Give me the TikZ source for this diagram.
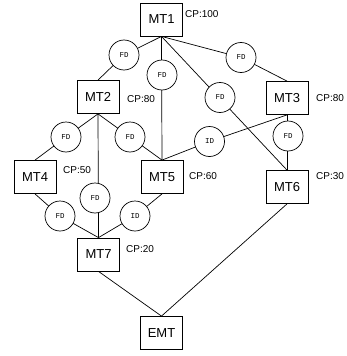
\documentclass[tikz,border=0pt]{standalone}
\usepackage{fontspec}
\setmainfont{Liberation Sans}
\newfontfamily\depfont{Liberation Mono}
\begin{document}
\begin{tikzpicture}[x=1pt,y=-1pt,
  mt/.style={draw=black,line width=0.8pt,fill=white,minimum width=42pt,minimum height=33pt,inner sep=0pt,font=\fontsize{13}{15}\selectfont},
  dep/.style={draw=black,line width=0.7pt,fill=white,circle,minimum size=30pt,inner sep=0pt,font=\depfont\fontsize{7.5}{8}\selectfont},
  cp/.style={anchor=west,inner sep=0pt,font=\fontsize{10}{12}\selectfont},
  link/.style={draw=black,line width=0.7pt}]
\useasboundingbox (0,0) rectangle (346,356);

% module boxes
\node[mt] (mt1) at (161.5,19.5) {MT1};
\node[mt] (mt2) at (98,97) {MT2};
\node[mt] (mt3) at (287,98) {MT3};
\node[mt] (mt4) at (35,177) {MT4};
\node[mt] (mt5) at (162,177) {MT5};
\node[mt] (mt6) at (287,187) {MT6};
\node[mt] (mt7) at (98.5,254.5) {MT7};
\node[mt] (emt) at (161.5,333) {EMT};

% dependency points on the links
\coordinate (d1) at (124,55);
\coordinate (d2) at (162,75);
\coordinate (d3) at (220,97.5);
\coordinate (d4) at (241,57.5);
\coordinate (d5) at (66,137);
\coordinate (d6) at (130,137);
\coordinate (d7) at (209.5,141.5);
\coordinate (d8) at (288,136);
\coordinate (d9) at (95,198);
\coordinate (d10) at (60,216);
\coordinate (d11) at (135,216);

% links
\draw[link] (mt1.south) -- (d1) -- (mt2.north);
\draw[link] (mt1.south) -- (mt5.north);
\draw[link] (mt1.south) -- (mt6.north);
\draw[link] (mt1.south) -- (d4) -- (mt3.north);
\draw[link] (mt2.south) -- (d5) -- (mt4.north);
\draw[link] (mt2.south) -- (d6) -- (mt5.north);
\draw[link] (mt3.south) -- (d7) -- (mt5.north);
\draw[link] (mt3.south) -- (mt6.north);
\draw[link] (mt2.south) -- (mt7.north);
\draw[link] (mt4.south) -- (d10) -- (mt7.north);
\draw[link] (mt5.south) -- (d11) -- (mt7.north);
\draw[link] (mt7.south) -- (emt.north);
\draw[link] (mt6.south) -- (emt.north);

% dependency kinds
\node[dep] (f1) at (d1) {FD};
\node[dep] (f2) at (d2) {FD};
\node[dep] (f3) at (d3) {FD};
\node[dep] (f4) at (d4) {FD};
\node[dep] (f5) at (d5) {FD};
\node[dep] (f6) at (d6) {FD};
\node[dep] (f7) at (d7) {ID};
\node[dep] (f8) at (d8) {FD};
\node[dep] (f9) at (d9) {FD};
\node[dep] (f10) at (d10) {FD};
\node[dep] (f11) at (d11) {ID};

% critical path values
\node[cp] (cp1) at (185,14) {CP:100};
\node[cp] (cp2) at (127,99) {CP:80};
\node[cp] (cp3) at (316,98) {CP:80};
\node[cp] (cp4) at (63,170) {CP:50};
\node[cp] (cp5) at (189,176) {CP:60};
\node[cp] (cp6) at (316,176) {CP:30};
\node[cp] (cp7) at (126,249) {CP:20};
\end{tikzpicture}
\end{document}
